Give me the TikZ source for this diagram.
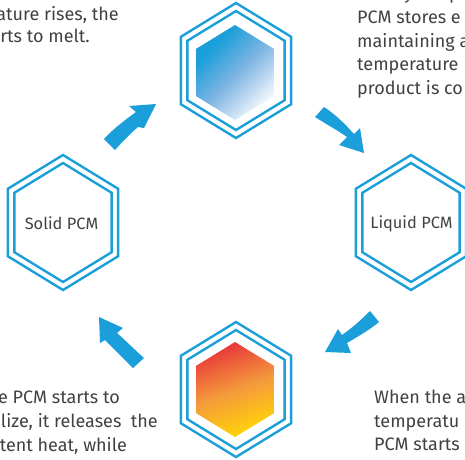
\documentclass[tikz,border=0pt]{standalone}
\usepackage{fontspec}
\setmainfont{Fira Sans}
\usetikzlibrary{calc}
\definecolor{pcmblue}{HTML}{1B9FDB}
\definecolor{midblue}{HTML}{7DB4E2}
\definecolor{txtgray}{HTML}{414042}
\definecolor{hotred}{HTML}{E93A3A}
\definecolor{hotmid}{HTML}{F49A3C}
\definecolor{hotyel}{HTML}{FFD00A}
\pgfdeclareverticalshading{hotg}{100bp}{color(0bp)=(hotyel); color(33bp)=(hotyel); color(50bp)=(hotmid); color(68bp)=(hotred); color(100bp)=(hotred)}
\pgfdeclareverticalshading{coolg}{100bp}{color(0bp)=(white); color(30bp)=(white); color(49bp)=(midblue); color(64bp)=(pcmblue); color(100bp)=(pcmblue)}
\tikzset{
  hexline/.style={draw=pcmblue,line width=2.4pt,line join=miter},
  cyclearrow/.style={fill=pcmblue,draw=none},
  body/.style={text=txtgray,font=\fontsize{18}{20}\selectfont,inner sep=0pt},
  hexlabel/.style={text=txtgray,font=\fontsize{16.4}{20}\selectfont,inner sep=0pt},
}
\newcommand{\hexpath}[3]{(#1,#2-#3) -- (#1+0.8165*#3,#2-0.5*#3) -- (#1+0.8165*#3,#2+0.5*#3) -- (#1,#2+#3) -- (#1-0.8165*#3,#2+0.5*#3) -- (#1-0.8165*#3,#2-0.5*#3) -- cycle}
\newcommand{\dhex}[2]{%
  \draw[hexline] \hexpath{#1}{#2}{67.5};
  \draw[hexline] \hexpath{#1}{#2}{59.5};}
\begin{document}
\begin{tikzpicture}[x=1pt,y=-1pt]
\useasboundingbox (0,0) rectangle (465,459);
\dhex{63}{222.5}
\dhex{411}{222.5}
\dhex{236}{70.5}
\dhex{236}{389.5}
\begin{scope}
\clip \hexpath{235}{72.5}{47.5};
\shade[shading=coolg,shading angle=45] (175,12) rectangle (295,132);
\end{scope}
\begin{scope}
\clip \hexpath{235}{389.5}{47.5};
\shade[shading=hotg,shading angle=20] (170,330) rectangle (300,450);
\end{scope}
\node[hexlabel] (solid) at (61.5,223.5) {Solid PCM};
\node[hexlabel] (liquid) at (411.5,223.5) {Liquid PCM};
\node[body,anchor=base east] (t1) at (119,20) {ature rises, the};
\node[body,anchor=base east] (t2) at (90,42) {rts to melt.};
\node[body,anchor=base west] (r0a) at (404,-1) {y};
\node[body,anchor=base west] (r0b) at (449,-1) {p};
\node[body,anchor=base west] (r1) at (357,23) {PCM stores e};
\node[body,anchor=base west] (r2) at (357,47) {maintaining a};
\node[body,anchor=base west] (r3) at (357,70) {temperature};
\node[body,anchor=base west] (r4) at (357,94) {product is co};
\node[body,anchor=base east] (l1) at (120,403) {e PCM starts to};
\node[body,anchor=base east] (l2) at (158,427) {lize, it releases\ \ the};
\node[body,anchor=base east] (l3) at (127,451) {tent heat, while};
\node[body,anchor=base west] (b1) at (374,403) {When the a};
\node[body,anchor=base west] (b2) at (374,427) {temperatu};
\node[body,anchor=base west] (b3) at (374,450) {PCM starts};
\fill[cyclearrow] (104,139) -- (115,150) .. controls (124,140) and (131,133) .. (138,127) -- (144,128) -- (156,104) -- (129,106) -- (136,112) .. controls (125,120) and (113,129) .. cycle;
\fill[cyclearrow] (324,107) -- (315,117) .. controls (326,124) and (337,130) .. (347,137) -- (339,145) -- (364,153) -- (360,128) -- (354,134) .. controls (345,124) and (335,114) .. cycle;
\fill[cyclearrow] (370,311) -- (379,322) .. controls (368,331) and (357,337) .. (347,343) -- (351,353) -- (325,352) -- (338,329) -- (342,335) .. controls (352,328) and (361,320) .. cycle;
\fill[cyclearrow] (144,358) -- (133,368) .. controls (124,359) and (114,349) .. (105,340) -- (100,343) -- (99,317) -- (123,328) -- (117,333) .. controls (126,341) and (135,350) .. cycle;
\end{tikzpicture}
\end{document}
